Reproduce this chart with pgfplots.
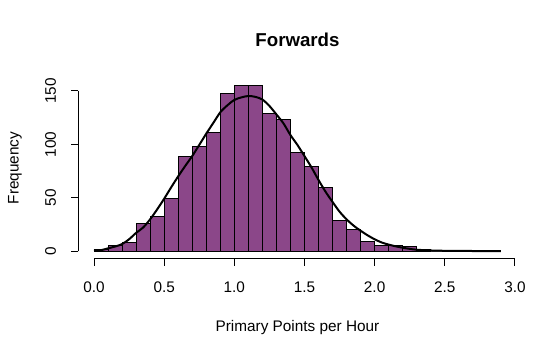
\documentclass[border=0pt]{standalone}
\usepackage{fontspec}
\setmainfont{Liberation Sans}
\usepackage{pgfplots}
\pgfplotsset{compat=1.18}
\definecolor{barfill}{HTML}{8B4789}
\begin{document}
\begin{tikzpicture}[lbl/.style={font=\fontsize{11.5}{13}\selectfont, inner sep=0pt}]
\begin{axis}[x=105.225pt, y=0.8pt, xmin=-0.116, xmax=3.016, ymin=-6.84, ymax=160,
  hide axis, clip=false, scale only axis]
\addplot[ybar interval, fill=barfill, draw=black, line width=0.75pt] coordinates {
(0.0,1) (0.1,5) (0.2,8) (0.3,26) (0.4,32) (0.5,49) (0.6,89) (0.7,98) (0.8,111) (0.9,148)
(1.0,155) (1.1,155) (1.2,129) (1.3,123) (1.4,92) (1.5,79) (1.6,60) (1.7,29) (1.8,20) (1.9,9)
(2.0,5) (2.1,5) (2.2,4) (2.3,1) (2.4,0) (2.5,0) (2.6,0) (2.7,0) (2.8,0) (2.9,0)};
\addplot[black, line width=1.5pt, smooth] coordinates {
(0.0,0.3) (0.05,0.8) (0.1,2.5) (0.15,4.2) (0.2,6.5) (0.25,11) (0.3,17) (0.35,22) (0.4,29.7)
(0.45,39) (0.5,49) (0.55,59.7) (0.6,70) (0.65,79.7) (0.7,89) (0.75,99.4) (0.8,110)
(0.85,120) (0.9,130) (0.95,136.5) (1.0,141.6) (1.05,144) (1.1,145.3) (1.15,144.5) (1.2,142)
(1.25,136) (1.3,128) (1.35,119.7) (1.4,108.7) (1.45,99.4) (1.5,89) (1.55,78.4) (1.6,66.6)
(1.65,55.6) (1.7,46) (1.75,36.9) (1.8,29.7) (1.85,23.8) (1.9,19) (1.95,14.7) (2.0,11)
(2.05,8) (2.1,6) (2.15,4.4) (2.2,3.1) (2.25,2) (2.3,1.2) (2.4,0.5) (2.5,0.2) (2.6,0.1)
(2.7,0) (2.8,0) (2.9,0)};
% x axis
\draw[black, line width=0.75pt] (axis cs:0,-6.84) -- (axis cs:3,-6.84);
\draw[black, line width=0.75pt] (axis cs:0,-6.84) -- (axis cs:0,-13.6);
\draw[black, line width=0.75pt] (axis cs:0.5,-6.84) -- (axis cs:0.5,-13.6);
\draw[black, line width=0.75pt] (axis cs:1,-6.84) -- (axis cs:1,-13.6);
\draw[black, line width=0.75pt] (axis cs:1.5,-6.84) -- (axis cs:1.5,-13.6);
\draw[black, line width=0.75pt] (axis cs:2,-6.84) -- (axis cs:2,-13.6);
\draw[black, line width=0.75pt] (axis cs:2.5,-6.84) -- (axis cs:2.5,-13.6);
\draw[black, line width=0.75pt] (axis cs:3,-6.84) -- (axis cs:3,-13.6);
\node[lbl] at (axis cs:0,-33.75) {0.0};
\node[lbl] at (axis cs:0.5,-33.75) {0.5};
\node[lbl] at (axis cs:1,-33.75) {1.0};
\node[lbl] at (axis cs:1.5,-33.75) {1.5};
\node[lbl] at (axis cs:2,-33.75) {2.0};
\node[lbl] at (axis cs:2.5,-33.75) {2.5};
\node[lbl] at (axis cs:3,-33.75) {3.0};
% y axis
\draw[black, line width=0.75pt] (axis cs:-0.112,0) -- (axis cs:-0.112,150);
\draw[black, line width=0.75pt] (axis cs:-0.112,0) -- (axis cs:-0.165,0);
\draw[black, line width=0.75pt] (axis cs:-0.112,50) -- (axis cs:-0.165,50);
\draw[black, line width=0.75pt] (axis cs:-0.112,100) -- (axis cs:-0.165,100);
\draw[black, line width=0.75pt] (axis cs:-0.112,150) -- (axis cs:-0.165,150);
\node[lbl, rotate=90] at (axis cs:-0.310,0) {0};
\node[lbl, rotate=90] at (axis cs:-0.310,50) {50};
\node[lbl, rotate=90] at (axis cs:-0.310,100) {100};
\node[lbl, rotate=90] at (axis cs:-0.310,150) {150};
% labels
\node[lbl] at (axis cs:1.45,-72.2) {Primary Points per Hour};
\node[lbl, rotate=90] at (axis cs:-0.563,77.8) {Frequency};
\node[font=\fontsize{14}{16}\selectfont\bfseries, inner sep=0pt] at (axis cs:1.45,198.3) {Forwards};
\coordinate (bl) at (axis cs:-0.670,-98.43);
\coordinate (tr) at (axis cs:3.307,235.3);
\end{axis}
\pgfresetboundingbox
\useasboundingbox (bl) rectangle (tr);
\end{tikzpicture}
\end{document}
